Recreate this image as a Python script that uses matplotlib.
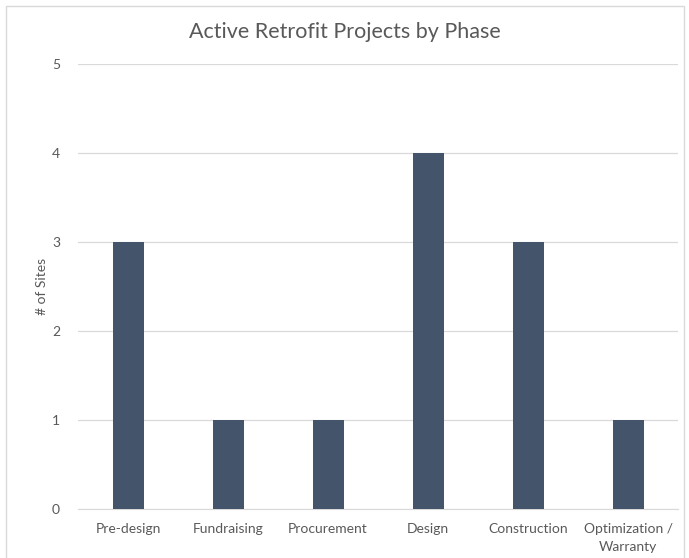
import matplotlib
matplotlib.use('Agg')
import matplotlib.pyplot as plt
from matplotlib.patches import Rectangle

phases = ['Pre-design', 'Fundraising', 'Procurement', 'Design', 'Construction', 'Optimization /\nWarranty']
sites = [3, 1, 1, 4, 3, 1]

plt.rcParams['font.family'] = ['Lato', 'DejaVu Sans']
text_color = '#595959'
bar_color = '#44546A'

fig = plt.figure(figsize=(6.89, 5.58), dpi=100)
ax = fig.add_axes([78 / 689, 1 - 509 / 558, 600 / 689, 445 / 558])

x = list(range(len(phases)))
ax.bar(x, sites, width=0.31, color=bar_color, zorder=3)

ax.set_xlim(-0.5, len(phases) - 0.5)
ax.set_ylim(0, 5)
ax.set_yticks(range(0, 6))
ax.set_xticks(x)
ax.set_xticklabels(phases, fontsize=10, color=text_color, linespacing=1.6)
ax.tick_params(axis='y', labelsize=10, labelcolor=text_color, length=0, pad=13)
ax.tick_params(axis='x', length=0, pad=10)
ax.grid(axis='y', color='#D9D9D9', linewidth=0.9, zorder=0)
for s in ['top', 'right', 'left']:
    ax.spines[s].set_visible(False)
ax.spines['bottom'].set_color('#D9D9D9')

ax.set_ylabel('# of Sites', fontsize=10, color=text_color, labelpad=3)
fig.text(0.5, 1 - 32 / 558, 'Active Retrofit Projects by Phase', ha='center', va='center',
         fontsize=15.5, color=text_color)

# chart border
fig.patches.append(Rectangle((6 / 689, -0.05), 678 / 689, 1.05 - 6 / 558, transform=fig.transFigure,
                             fill=False, edgecolor='#D9D9D9', linewidth=1))

fig.savefig('out.png', dpi=100)
